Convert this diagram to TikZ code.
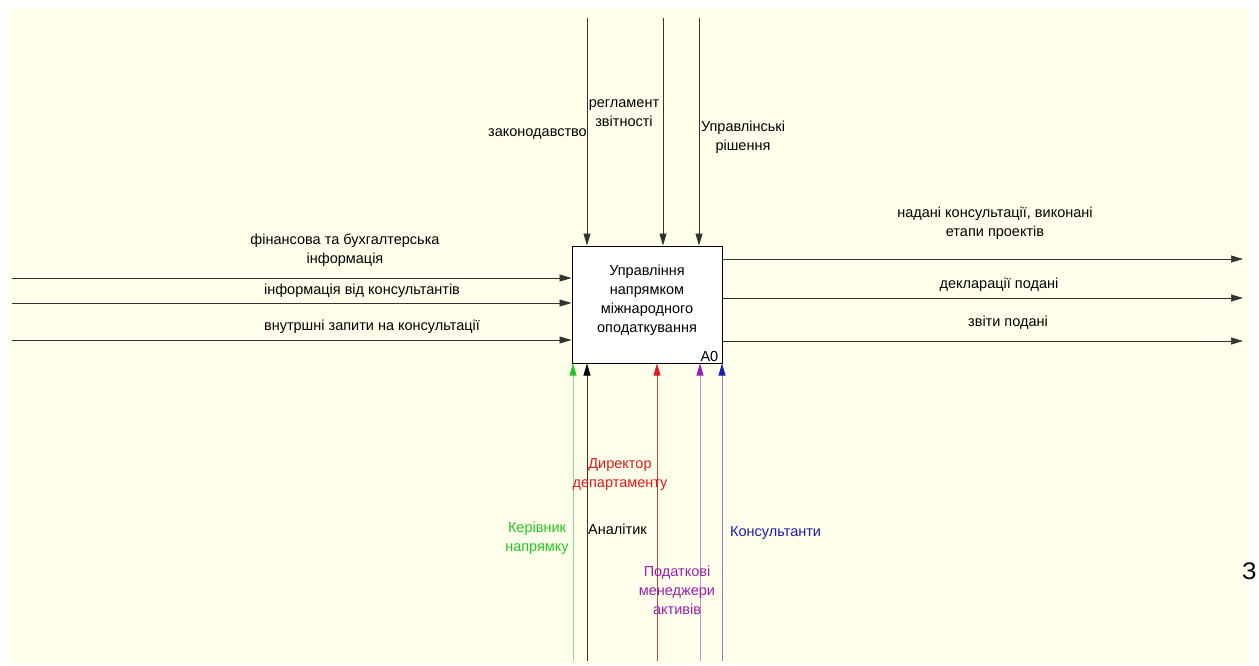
\documentclass[tikz,border=0pt]{standalone}
\usepackage{fontspec}
\setmainfont{Liberation Sans}
\usetikzlibrary{arrows.meta, positioning, calc}
\definecolor{bgcream}{HTML}{FFFFEB}
\definecolor{mechgreen}{HTML}{22C822}
\definecolor{mechred}{HTML}{E01A1A}
\definecolor{mechpurple}{HTML}{9A1FB0}
\definecolor{mechblue}{HTML}{1A1AB4}

\tikzset{
  flow/.style={draw=black!80, line width=0.7pt, -{Triangle[length=12pt,width=7pt]}},
  mech/.style args={#1/#2}{draw=#1, line width=0.7pt, -{Triangle[length=12pt,width=7pt,color=#2]}},
  lbl/.style={font=\fontsize{14.5}{19}\selectfont, inner sep=0pt, align=center},
  funcbox/.style={draw, line width=1pt, fill=white, minimum width=150pt, minimum height=117pt, inner sep=0pt}
}

\begin{document}
\begin{tikzpicture}[x=1pt, y=-1pt]
    % page and cream background
    \useasboundingbox (0,0) rectangle (1259,665);
    \fill[bgcream] (7,8) rectangle (1250,664);

    % function box A0
    \node[funcbox] (func) at (647,304.5) {};
    \node[lbl] (funcname) at (647,300) {Управління\\напрямком\\міжнародного\\оподаткування};
    \node[lbl, anchor=south east] (a0) at ($(func.south east)+(-4,-2)$) {A0};

    % inputs
    \coordinate (in1) at (12,278);
    \coordinate (in2) at (12,303);
    \coordinate (in3) at (12,340);
    \draw[flow] (in1) -- (in1 -| func.west);
    \draw[flow] (in2) -- (in2 -| func.west);
    \draw[flow] (in3) -- (in3 -| func.west);
    \node[lbl] (fin) at (345,250) {фінансова та бухгалтерська\\інформація};
    \node[lbl] (infok) at (362,291) {інформація від консультантів};
    \node[lbl] (zapyty) at (372,327) {внутршні запити на консультації};

    % controls
    \coordinate (c1) at (587,18);
    \coordinate (c2) at (663,18);
    \coordinate (c3) at (699,18);
    \draw[flow] (c1) -- (c1 |- func.north);
    \draw[flow] (c2) -- (c2 |- func.north);
    \draw[flow] (c3) -- (c3 |- func.north);
    \node[lbl, anchor=east] (zakon) at (587,134) {законодавство};
    \node[lbl] (reglament) at (624,113) {регламент\\звітності};
    \node[lbl] (rishennia) at (743,137) {Управлінські\\рішення};

    % outputs
    \coordinate (o1) at (1243,259);
    \coordinate (o2) at (1243,298);
    \coordinate (o3) at (1243,341);
    \draw[flow] (o1 -| func.east) -- (o1);
    \draw[flow] (o2 -| func.east) -- (o2);
    \draw[flow] (o3 -| func.east) -- (o3);
    \node[lbl] (nadani) at (995,223) {надані консультації, виконані\\етапи проектів};
    \node[lbl] (deklar) at (999,285) {декларації подані};
    \node[lbl] (zvity) at (1008,323) {звіти подані};

    % mechanisms
    \coordinate (m1) at (573,661);
    \coordinate (m2) at (587,661);
    \coordinate (m3) at (657,661);
    \coordinate (m4) at (700,661);
    \coordinate (m5) at (722,661);
    \draw[mech=mechgreen!55/mechgreen] (m1) -- (m1 |- func.south);
    \draw[mech=black!80/black] (m2) -- (m2 |- func.south);
    \draw[mech=mechred!55!gray/mechred] (m3) -- (m3 |- func.south);
    \draw[mech=mechpurple!50/mechpurple] (m4) -- (m4 |- func.south);
    \draw[mech=mechblue!55/mechblue] (m5) -- (m5 |- func.south);
    \node[lbl, text=mechred] (dyrektor) at (620,475) {Директор\\департаменту};
    \node[lbl, text=mechgreen] (kerivnyk) at (537,538) {Керівник\\напрямку};
    \node[lbl, anchor=west] (analityk) at (588,529) {Аналітик};
    \node[lbl, text=mechblue, anchor=west] (konsult) at (730,533) {Консультанти};
    \node[lbl, text=mechpurple] (podatk) at (677,590) {Податкові\\менеджери\\активів};

    % cut-off glyph at the right edge
    \node[font=\fontsize{24}{24}\selectfont, inner sep=0pt, anchor=west] (kraj) at (1242,571) {З};
\end{tikzpicture}
\end{document}
